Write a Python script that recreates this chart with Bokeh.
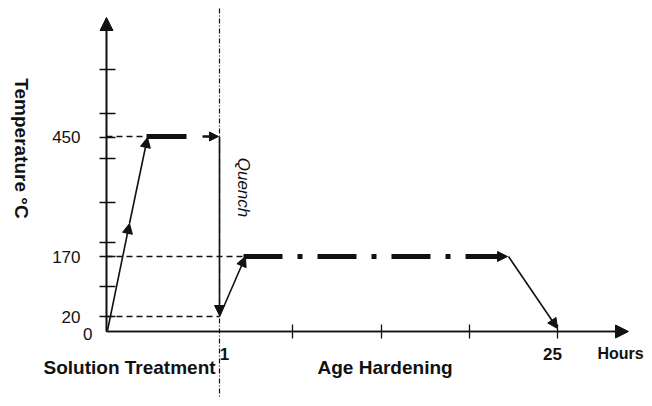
import math
from bokeh.plotting import figure
from bokeh.models import Range1d, Arrow, NormalHead, ColumnDataSource
from bokeh.core.properties import value
from bokeh.embed import file_html
from bokeh.resources import INLINE

# ---- data (schematic diagram units; origin = (0 h, 0 °C) corner) ----
temp_labels = ["0", "20", "170", "450"]
temp_pos = [0, 15, 75, 195]
y_ticks = [15, 45, 75, 89, 129, 173, 194, 218, 262]
time_labels = ["1", "25"]
time_pos = [113, 451]
x_ticks = [186, 275, 363, 451]
y_axis_top = 314
x_axis_end = 522

# heat-treatment path
ramp1_x = [1, 23, 41]
ramp1_y = [1, 108, 194]
hold_x = [40, 80]
hold_y = [195, 195]
tail_x = [96, 112]
tail_y = [195, 195]
quench_x = [113, 113]
quench_y = [195, 16]
ramp2_x = [113, 139]
ramp2_y = [15, 75]
age_x = [137, 401]
age_y = [75, 75]
cool_x = [402, 451]
cool_y = [75, 3]

FONT = "Liberation Sans"
INK = "#111111"

p = figure(width=644, height=398, output_backend="svg", toolbar_location=None,
           x_range=Range1d(-106, 538), y_range=Range1d(-67, 331),
           x_axis_location=None, y_axis_location=None, min_border=0)
p.outline_line_color = None
p.xgrid.visible = False
p.ygrid.visible = False

# reference dashed lines
p.segment(x0=[0, 0, 0], y0=[temp_pos[3], temp_pos[2], temp_pos[1]],
          x1=[hold_x[0], age_x[0], quench_x[0]], y1=[temp_pos[3], temp_pos[2], temp_pos[1]],
          line_color=INK, line_width=1.3, line_dash="6 4")

# vertical dash-dot separator at 1 h
p.segment(x0=[time_pos[0]], y0=[323], x1=[time_pos[0]], y1=[-75],
          line_color=INK, line_width=1.2, line_dash="5 2 1 2")

# axes
p.segment(x0=[0, 0], y0=[0, 0], x1=[0, x_axis_end - 8], y1=[y_axis_top - 8, 0],
          line_color=INK, line_width=1.6)
p.add_layout(Arrow(end=NormalHead(size=13, fill_color=INK, line_color=INK),
                   x_start=0, y_start=0, x_end=0, y_end=y_axis_top,
                   line_color=INK, line_width=1.6))
p.add_layout(Arrow(end=NormalHead(size=13, fill_color=INK, line_color=INK),
                   x_start=0, y_start=0, x_end=x_axis_end, y_end=0,
                   line_color=INK, line_width=1.6))

# ticks
p.segment(x0=[-7] * len(y_ticks), y0=y_ticks, x1=[9] * len(y_ticks), y1=y_ticks,
          line_color=INK, line_width=1.3)
p.segment(x0=x_ticks, y0=[-7] * len(x_ticks), x1=x_ticks, y1=[7] * len(x_ticks),
          line_color=INK, line_width=1.3)

# path
def arrow(xs, ys, width, dash="solid", size=10):
    p.add_layout(Arrow(end=NormalHead(size=size, fill_color=INK, line_color=INK),
                       x_start=xs[0], y_start=ys[0], x_end=xs[1], y_end=ys[1],
                       line_color=INK, line_width=width, line_dash=dash))

arrow(ramp1_x[0:2], ramp1_y[0:2], 1.6)
arrow(ramp1_x[1:3], ramp1_y[1:3], 1.6)
p.line(hold_x, hold_y, line_color=INK, line_width=5)
arrow(tail_x, tail_y, 2.5, size=9)
arrow(quench_x, quench_y, 1.6)
arrow(ramp2_x, ramp2_y, 1.6)
arrow(age_x, age_y, 5, dash="39 15 5 15")
arrow(cool_x, cool_y, 1.6)

# texts
src = ColumnDataSource(dict(x=[-26] * 3, y=temp_pos[1:], t=temp_labels[1:]))
p.text(x="x", y="y", text="t", source=src, text_font=value(FONT), text_font_size="17px",
       text_color=INK, text_align="right", text_baseline="middle")
p.text(x=[-14], y=[-2], text=[temp_labels[0]], text_font=value(FONT), text_font_size="17px",
       text_color=INK, text_align="right", text_baseline="middle")
p.text(x=[time_pos[0] + 5], y=[-22], text=[time_labels[0]], text_font=value(FONT),
       text_font_size="17px", text_font_style="bold", text_color=INK,
       text_align="center", text_baseline="middle")
p.text(x=[time_pos[1] - 5], y=[-22], text=[time_labels[1]], text_font=value(FONT),
       text_font_size="17px", text_font_style="bold", text_color=INK,
       text_align="center", text_baseline="middle")
p.text(x=[491], y=[-22], text=["Hours"], text_font=value(FONT), text_font_size="16px",
       text_font_style="bold", text_color=INK, text_align="left", text_baseline="middle")
p.text(x=[-63], y=[-36], text=["Solution Treatment"], text_font=value(FONT),
       text_font_size="19px", text_font_style="bold", text_color=INK,
       text_align="left", text_baseline="middle")
p.text(x=[211], y=[-36], text=["Age Hardening"], text_font=value(FONT),
       text_font_size="19px", text_font_style="bold", text_color=INK,
       text_align="left", text_baseline="middle")
p.text(x=[-85], y=[183], text=["Temperature °C"], text_font=value(FONT),
       text_font_size="19px", text_font_style="bold", text_color=INK, angle=-math.pi / 2,
       text_align="center", text_baseline="middle")
p.text(x=[137], y=[144], text=["Quench"], text_font=value(FONT),
       text_font_size="17px", text_font_style="italic", text_color=INK, angle=-math.pi / 2,
       text_align="center", text_baseline="middle")

open("out.html", "w").write(file_html(p, INLINE))
